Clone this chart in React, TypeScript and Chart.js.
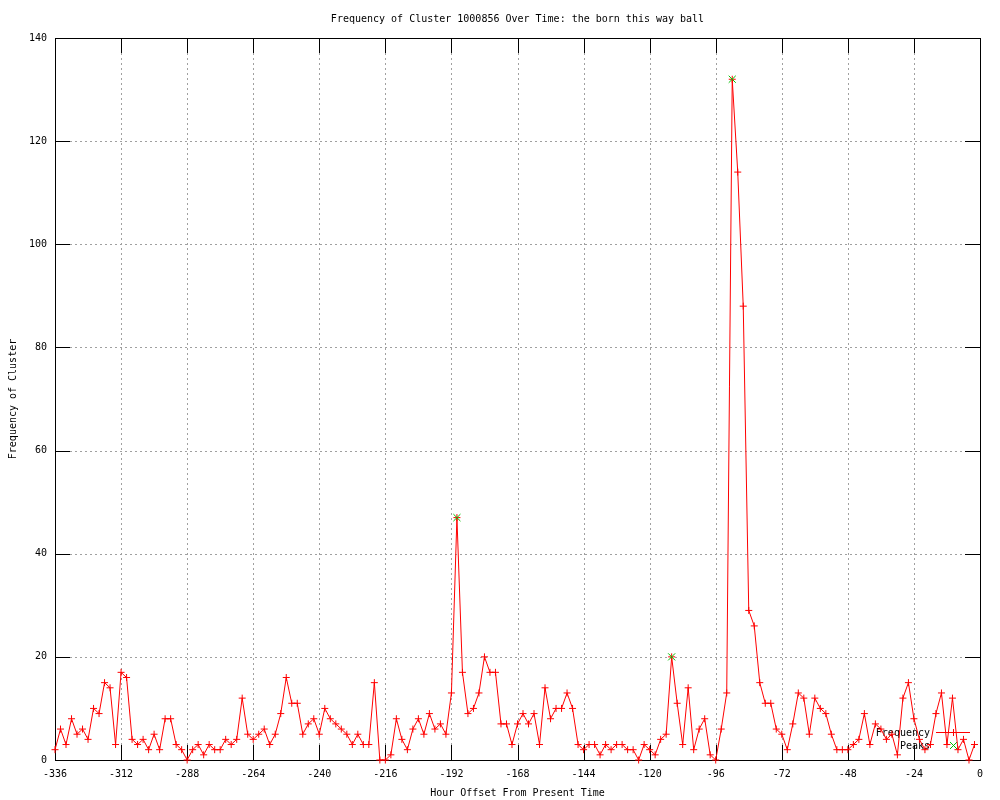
import React, { useEffect, useRef } from "react";
import { Chart, registerables } from "chart.js";

Chart.register(...registerables);

const TITLE = "Frequency of Cluster 1000856 Over Time: the born this way ball";
const X_TITLE = "Hour Offset From Present Time";
const Y_TITLE = "Frequency of Cluster";
const LEGEND_FREQ = "Frequency";
const LEGEND_PEAKS = "Peaks";

const hours: number[] = [
  -336, -334, -332, -330, -328, -326, -324, -322, -320, -318, -316, -314, -312, -310, -308, -306,
  -304, -302, -300, -298, -296, -294, -292, -290, -288, -286, -284, -282, -280, -278, -276, -274,
  -272, -270, -268, -266, -264, -262, -260, -258, -256, -254, -252, -250, -248, -246, -244, -242,
  -240, -238, -236, -234, -232, -230, -228, -226, -224, -222, -220, -218, -216, -214, -212, -210,
  -208, -206, -204, -202, -200, -198, -196, -194, -192, -190, -188, -186, -184, -182, -180, -178,
  -176, -174, -172, -170, -168, -166, -164, -162, -160, -158, -156, -154, -152, -150, -148, -146,
  -144, -142, -140, -138, -136, -134, -132, -130, -128, -126, -124, -122, -120, -118, -116, -114,
  -112, -110, -108, -106, -104, -102, -100, -98, -96, -94, -92, -90, -88, -86, -84, -82,
  -80, -78, -76, -74, -72, -70, -68, -66, -64, -62, -60, -58, -56, -54, -52, -50,
  -48, -46, -44, -42, -40, -38, -36, -34, -32, -30, -28, -26, -24, -22, -20, -18,
  -16, -14, -12, -10, -8, -6, -4, -2,
];

const frequency: number[] = [
  2, 6, 3, 8, 5, 6, 4, 10, 9, 15, 14, 3, 17, 16, 4, 3,
  4, 2, 5, 2, 8, 8, 3, 2, 0, 2, 3, 1, 3, 2, 2, 4,
  3, 4, 12, 5, 4, 5, 6, 3, 5, 9, 16, 11, 11, 5, 7, 8,
  5, 10, 8, 7, 6, 5, 3, 5, 3, 3, 15, 0, 0, 1, 8, 4,
  2, 6, 8, 5, 9, 6, 7, 5, 13, 47, 17, 9, 10, 13, 20, 17,
  17, 7, 7, 3, 7, 9, 7, 9, 3, 14, 8, 10, 10, 13, 10, 3,
  2, 3, 3, 1, 3, 2, 3, 3, 2, 2, 0, 3, 2, 1, 4, 5,
  20, 11, 3, 14, 2, 6, 8, 1, 0, 6, 13, 132, 114, 88, 29, 26,
  15, 11, 11, 6, 5, 2, 7, 13, 12, 5, 12, 10, 9, 5, 2, 2,
  2, 3, 4, 9, 3, 7, 6, 4, 5, 1, 12, 15, 8, 4, 2, 3,
  9, 13, 3, 12, 2, 4, 0, 3,
];

const peakHours: number[] = [-190, -112, -90];
const peakValues: number[] = [47, 20, 132];

const xTicks: number[] = [-336, -312, -288, -264, -240, -216, -192, -168, -144, -120, -96, -72, -48, -24, 0];
const yTicks: number[] = [0, 20, 40, 60, 80, 100, 120, 140];

const FONT = "10px 'DejaVu Sans Mono', monospace";
const RED = "#ff0000";
const GREEN = "#00c000";

const gnuplotPlugin = {
  id: "gnuplotFrame",
  beforeDatasetsDraw(chart: any) {
    const { ctx, chartArea, scales } = chart;
    const { left, right, top, bottom } = chartArea;
    const xs = scales.x;
    const ys = scales.y;
    const TL = 15;
    ctx.save();
    ctx.lineWidth = 1;
    // grid
    ctx.strokeStyle = "#a0a0a0";
    ctx.setLineDash([2, 3]);
    xTicks.forEach((v) => {
      const p = Math.round(xs.getPixelForValue(v)) + 0.5;
      if (p <= left + 1 || p >= right - 1) return;
      ctx.beginPath();
      ctx.moveTo(p, top);
      ctx.lineTo(p, bottom);
      ctx.stroke();
    });
    yTicks.forEach((v) => {
      const p = Math.round(ys.getPixelForValue(v)) + 0.5;
      if (p <= top + 1 || p >= bottom - 1) return;
      ctx.beginPath();
      ctx.moveTo(left, p);
      ctx.lineTo(right, p);
      ctx.stroke();
    });
    ctx.setLineDash([]);
    // ticks
    ctx.strokeStyle = "#000000";
    xTicks.forEach((v) => {
      const p = Math.round(xs.getPixelForValue(v)) + 0.5;
      ctx.beginPath();
      ctx.moveTo(p, bottom);
      ctx.lineTo(p, bottom - TL);
      ctx.moveTo(p, top);
      ctx.lineTo(p, top + TL);
      ctx.stroke();
    });
    yTicks.forEach((v) => {
      const p = Math.round(ys.getPixelForValue(v)) + 0.5;
      ctx.beginPath();
      ctx.moveTo(left, p);
      ctx.lineTo(left + TL, p);
      ctx.moveTo(right, p);
      ctx.lineTo(right - TL, p);
      ctx.stroke();
    });
    // border
    const l = Math.round(left) + 0.5;
    const r = Math.round(right) + 0.5;
    const t = Math.round(top) + 0.5;
    const b = Math.round(bottom) + 0.5;
    ctx.strokeRect(l, t, r - l, b - t);
    // texts
    ctx.fillStyle = "#000000";
    ctx.font = FONT;
    ctx.textAlign = "center";
    ctx.textBaseline = "middle";
    const cx = (left + right) / 2;
    ctx.fillText(TITLE, cx, 19);
    ctx.fillText(X_TITLE, cx, 793);
    ctx.save();
    ctx.translate(13, (top + bottom) / 2);
    ctx.rotate(-Math.PI / 2);
    ctx.fillText(Y_TITLE, 0, 0);
    ctx.restore();
    // legend
    ctx.textAlign = "right";
    ctx.fillText(LEGEND_FREQ, 930, 733);
    ctx.fillText(LEGEND_PEAKS, 930, 746);
    ctx.strokeStyle = RED;
    ctx.beginPath();
    ctx.moveTo(936, 732.5);
    ctx.lineTo(970, 732.5);
    ctx.moveTo(953.5, 729);
    ctx.lineTo(953.5, 736);
    ctx.stroke();
    ctx.strokeStyle = GREEN;
    ctx.beginPath();
    ctx.moveTo(950, 742);
    ctx.lineTo(957, 749);
    ctx.moveTo(957, 742);
    ctx.lineTo(950, 749);
    ctx.stroke();
    ctx.restore();
  },
};

export default function App() {
  const ref = useRef<HTMLCanvasElement>(null);
  useEffect(() => {
    document.body.style.margin = "0";
    const canvas = ref.current;
    if (!canvas) return;
    const chart = new Chart(canvas, {
      type: "line",
      data: {
        datasets: [
          {
            label: "Frequency",
            data: hours.map((h, i) => ({ x: h, y: frequency[i] })),
            borderColor: RED,
            backgroundColor: RED,
            borderWidth: 1,
            pointStyle: "cross",
            pointRadius: 3.5,
            pointBorderColor: RED,
            pointBorderWidth: 1,
            tension: 0,
            fill: false,
            clip: false as any,
            order: 2,
          },
          {
            label: "Peaks",
            data: peakHours.map((h, i) => ({ x: h, y: peakValues[i] })),
            showLine: false,
            borderColor: GREEN,
            backgroundColor: GREEN,
            pointStyle: "crossRot",
            pointRadius: 5,
            pointBorderColor: GREEN,
            pointBorderWidth: 1,
            clip: false as any,
            order: 1,
          },
        ],
      },
      options: {
        animation: false,
        responsive: false,
        devicePixelRatio: 1,
        layout: { padding: { left: 0, right: 20, top: 38, bottom: 0 } },
        plugins: {
          legend: { display: false },
          title: { display: false },
          tooltip: { enabled: false },
        },
        scales: {
          x: {
            type: "linear",
            min: -336,
            max: 0,
            afterBuildTicks: (s: any) => {
              s.ticks = xTicks.map((v) => ({ value: v }));
            },
            afterFit: (s: any) => {
              s.height = 40;
            },
            grid: { display: false, drawTicks: false },
            border: { display: false },
            ticks: {
              autoSkip: false,
              maxRotation: 0,
              padding: 8,
              color: "#000000",
              font: { family: "'DejaVu Sans Mono', monospace", size: 10 },
              callback: (v: any) => String(v),
            },
          },
          y: {
            type: "linear",
            min: 0,
            max: 140,
            afterBuildTicks: (s: any) => {
              s.ticks = yTicks.map((v) => ({ value: v }));
            },
            afterFit: (s: any) => {
              s.width = 55;
            },
            grid: { display: false, drawTicks: false },
            border: { display: false },
            ticks: {
              padding: 8,
              color: "#000000",
              font: { family: "'DejaVu Sans Mono', monospace", size: 10 },
              callback: (v: any) => String(v),
            },
          },
        },
      },
      plugins: [gnuplotPlugin],
    });
    return () => chart.destroy();
  }, []);
  return (
    <div style={{ width: 1000, height: 800, background: "#ffffff" }}>
      <canvas ref={ref} width={1000} height={800} style={{ display: "block" }} />
    </div>
  );
}
